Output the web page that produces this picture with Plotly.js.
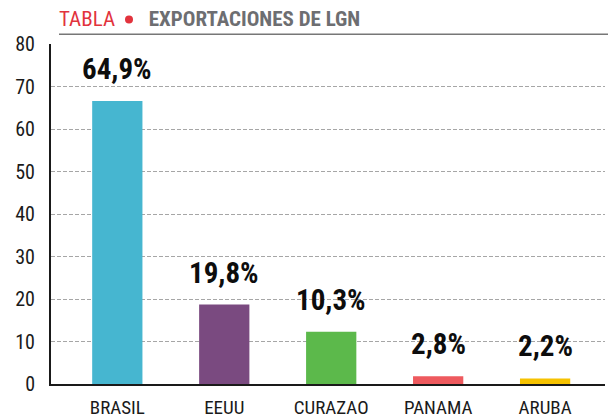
<!DOCTYPE html>
<html>
<head>
<meta charset="utf-8">
<script src="https://cdn.plot.ly/plotly-3.0.1.min.js"></script>
<style>html,body{margin:0;padding:0;background:#fff}#chart{width:608px;height:417px}</style>
</head>
<body>
<div id="chart"></div>
<script>
var categories = ["BRASIL", "EEUU", "CURAZAO", "PANAMA", "ARUBA"];
var values = [66.6, 18.7, 12.3, 1.8, 1.3];
var labels = ["64,9%", "19,8%", "10,3%", "2,8%", "2,2%"];
var colors = ["#46b6d0", "#7a4a80", "#5cb94b", "#ee5a5e", "#f6c200"];
var yTicks = [0, 10, 20, 30, 40, 50, 60, 70, 80];

var FONT = '"Roboto Condensed", "Arial Narrow", "Liberation Sans Narrow", Roboto, sans-serif';

var trace = {
  type: "bar",
  x: categories,
  y: values,
  marker: {color: colors, line: {width: 0}},
  hoverinfo: "skip"
};

var annotations = categories.map(function (c, i) {
  return {
    x: c, y: values[i], xref: "x", yref: "y",
    text: "<b>" + labels[i] + "</b>",
    showarrow: false, yanchor: "bottom", yshift: 13,
    font: {family: FONT, size: 29, color: "#0d0d0d"}
  };
});

var layout = {
  width: 608, height: 417,
  margin: {l: 51, r: 3, t: 44, b: 32.5, pad: 0},
  paper_bgcolor: "#fff", plot_bgcolor: "#fff",
  showlegend: false,
  bargap: 0.53,
  title: {
    text: '<span style="color:#e2333d">TABLA</span>&nbsp;&nbsp;&nbsp;&nbsp;&nbsp;&nbsp;&nbsp;<b><span style="color:#6d6e71">EXPORTACIONES DE LGN</span></b>',
    font: {family: FONT, size: 21, color: "#6d6e71"},
    x: 59 / 608, xanchor: "left", xref: "container",
    y: 1 - 19 / 417, yanchor: "middle", yref: "container"
  },
  xaxis: {
    type: "category",
    range: [-0.62, 4.56],
    showgrid: false, zeroline: false,
    showline: true, linecolor: "#1a1a1a", linewidth: 2,
    ticks: "", ticklabelstandoff: 5,
    tickfont: {family: FONT, size: 19, color: "#1a1a1a"},
    fixedrange: true
  },
  yaxis: {
    range: [0, 80],
    tickvals: yTicks,
    ticktext: yTicks.map(String),
    showgrid: true, gridcolor: "#a6a6a6", gridwidth: 1, griddash: "4px,2px",
    zeroline: false,
    showline: true, linecolor: "#1a1a1a", linewidth: 2,
    ticks: "", ticklabelstandoff: 10,
    tickfont: {family: FONT, size: 20, color: "#1a1a1a"},
    fixedrange: true
  },
  shapes: [{
    type: "line", xref: "paper", yref: "paper",
    x0: (59 - 51) / 554, x1: 1.006,
    y0: 1 + (44 - 34.3) / 340.5, y1: 1 + (44 - 34.3) / 340.5,
    line: {color: "#777", width: 1.5}
  }, {
    type: "circle", xref: "paper", yref: "paper",
    xsizemode: "pixel", ysizemode: "pixel",
    xanchor: (129 - 51) / 554, yanchor: 1 + (44 - 19.5) / 340.5,
    x0: -4, x1: 4, y0: -4, y1: 4,
    fillcolor: "#e2333d", line: {width: 0}
  }],
  annotations: annotations
};

Plotly.newPlot("chart", [trace], layout, {displayModeBar: false, staticPlot: true});
</script>
</body>
</html>
